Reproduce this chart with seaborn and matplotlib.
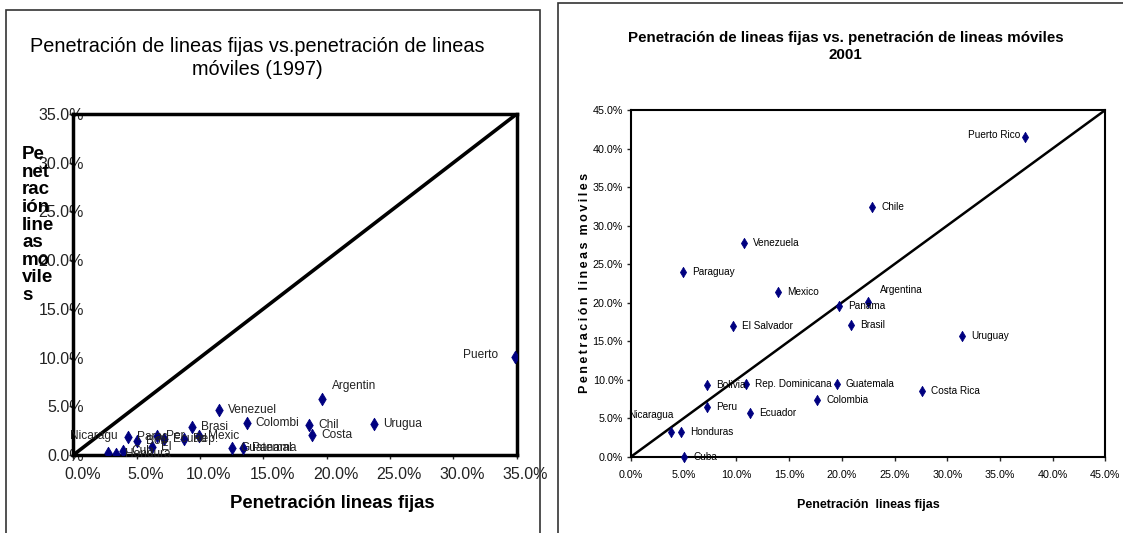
import matplotlib
matplotlib.use("Agg")
import matplotlib.pyplot as plt
from matplotlib import font_manager
from matplotlib.patches import Rectangle
from matplotlib.ticker import MultipleLocator, PercentFormatter
from matplotlib.transforms import ScaledTranslation
import pandas as pd
import seaborn as sns

# 1997 - etiquetas recortadas tal como aparecen en el grafico original
paises_97 = ["Nicaragu", "Hondura", "Cub", "Parag", "Boli", "El", "Per", "Ecuad",
             "Rep.", "Brasi", "Mexic", "Venezuel", "Guatemal", "Panama", "Colombi",
             "Chil", "Costa", "Argentin", "Urugua", "Puerto"]
fijas_97 = [2.71, 3.37, 3.9, 4.34, 5.0, 6.19, 6.58, 7.16,
            8.76, 9.39, 9.95, 11.52, 12.5, 13.42, 13.69,
            18.6, 18.86, 19.6, 23.73, 34.86]
moviles_97 = [0.24, 0.1, 0.41, 1.81, 1.47, 0.85, 1.95, 1.61,
              1.64, 2.91, 1.95, 4.62, 0.75, 0.75, 3.25,
              3.08, 2.05, 5.72, 3.18, 10.1]

# 2001
paises_01 = ["Nicaragua", "Honduras", "Cuba", "Peru", "Bolivia", "Rep. Dominicana",
             "Ecuador", "El Salvador", "Paraguay", "Venezuela", "Mexico", "Colombia",
             "Guatemala", "Panama", "Argentina", "Brasil", "Chile", "Uruguay",
             "Costa Rica", "Puerto Rico"]
fijas_01 = [3.8, 4.72, 5.06, 7.24, 7.24, 10.88,
            11.29, 9.65, 4.97, 10.75, 13.98, 17.68,
            19.51, 19.77, 22.5, 20.87, 22.87, 31.43,
            27.64, 37.41]
moviles_01 = [3.24, 3.16, 0.0, 6.41, 9.26, 9.43,
              5.63, 16.96, 23.97, 27.78, 21.33, 7.36,
              9.43, 19.6, 20.1, 17.1, 32.45, 15.7,
              8.53, 41.45]

# etiquetas que no van a la derecha del punto
pos_97 = {"Puerto": "left", "Argentin": "above", "Nicaragu": "aboveleft"}
pos_01 = {"Puerto Rico": "left", "Argentina": "above", "Nicaragua": "aboveleft"}

NAVY = "#000080"
W, H = 1123, 533

sns.set_theme(style="white")
plt.rcParams["font.family"] = ["Liberation Sans", "DejaVu Sans"]

names = {f.name for f in font_manager.fontManager.ttflist}
has_narrow = "Liberation Sans Narrow" in names
narrow = ["Liberation Sans Narrow", "Liberation Sans", "DejaVu Sans"] if has_narrow else ["Liberation Sans", "DejaVu Sans"]
k = 1.0 if has_narrow else 0.82  # reduce tamaño si no hay fuente estrecha

fig = plt.figure(figsize=(W / 100, H / 100), dpi=100)


def px(v):
    return v * 72 / 100


def label_points(ax, paises, xs, ys, special, offs, **kw):
    for name, x, y in zip(paises, xs, ys):
        where = special.get(name, "right")
        dx, dy, ha = offs[where]
        ax.annotate(name, (x, y), xytext=(px(dx), px(dy)), textcoords="offset points",
                    ha=ha, va="center", annotation_clip=False, **kw)


# ---------- panel 1997 ----------
fig.add_artist(Rectangle((6 / W, -0.05), 534 / W, 1.05 - 10 / H, transform=fig.transFigure,
                         fill=False, ec="#333333", lw=1.2))
ax1 = fig.add_axes([73.3 / W, (H - 455) / H, 443.4 / W, 341 / H])
df97 = pd.DataFrame({"fijas": fijas_97, "moviles": moviles_97, "pais": paises_97})
sns.scatterplot(data=df97, x="fijas", y="moviles", marker="d", s=40, color=NAVY,
                edgecolor=NAVY, linewidth=0.6, ax=ax1, zorder=3)
ax1.axline((0, 0), slope=1, color="black", lw=2.6, zorder=2)
ax1.set_xlim(0, 35)
ax1.set_ylim(0, 35)
ax1.set_xticks(range(0, 36, 5))
ax1.set_yticks(range(0, 36, 5))
ax1.xaxis.set_major_formatter(PercentFormatter(100, decimals=1))
ax1.yaxis.set_major_formatter(PercentFormatter(100, decimals=1))
for sp in ax1.spines.values():
    sp.set_color("black")
    sp.set_linewidth(2.5)
ax1.tick_params(axis="x", bottom=True, length=3, width=1, pad=5.3, labelsize=11.5,
                labelcolor="#222222")
ax1.tick_params(axis="y", left=True, length=3, width=1, pad=-10.6, labelsize=11.5,
                labelcolor="#222222")
for lab in ax1.get_xticklabels():
    lab.set_transform(lab.get_transform() + ScaledTranslation(9 / 100, 0, fig.dpi_scale_trans))
ax1.set_xlabel("Penetración lineas fijas", fontsize=13.3, fontweight="bold", color="black",
               ha="center", va="center")
ax1.xaxis.set_label_coords((332 - 73.3) / 443.4, (455 - 503) / 341)
ax1.set_ylabel("Pe\nnet\nrac\nión\nline\nas\nmo\nvile\ns", rotation=0, fontsize=13.5,
               fontweight="bold", color="black", ha="left", va="center", linespacing=1.04)
ax1.yaxis.set_label_coords((22 - 73.3) / 443.4, (455 - 225) / 341)
label_points(ax1, paises_97, fijas_97, moviles_97, pos_97,
             {"right": (9, 0, "left"), "left": (-17, 2, "right"),
              "above": (10, 13, "left"), "aboveleft": (9.6, 17, "right")},
             fontsize=8.6, color="#222222")
fig.text(257 / W, 1 - 58.3 / H, "Penetración de lineas fijas vs.penetración de lineas\nmóviles (1997)",
         ha="center", va="center", fontsize=14.3, linespacing=1.25, color="black")

# ---------- panel 2001 ----------
fig.add_artist(Rectangle((558 / W, -0.05), 0.6, 1.05 - 3 / H, transform=fig.transFigure,
                         fill=False, ec="#333333", lw=1.2))
ax2 = fig.add_axes([631 / W, (H - 456.7) / H, 474.3 / W, 346.7 / H])
df01 = pd.DataFrame({"fijas": fijas_01, "moviles": moviles_01, "pais": paises_01})
sns.scatterplot(data=df01, x="fijas", y="moviles", marker="d", s=28, color=NAVY,
                edgecolor=NAVY, linewidth=0.5, ax=ax2, zorder=3, clip_on=False)
ax2.axline((0, 0), slope=1, color="black", lw=1.8, zorder=2)
ax2.set_xlim(0, 45)
ax2.set_ylim(0, 45)
ax2.xaxis.set_major_locator(MultipleLocator(5))
ax2.yaxis.set_major_locator(MultipleLocator(5))
ax2.xaxis.set_major_formatter(PercentFormatter(100, decimals=1))
ax2.yaxis.set_major_formatter(PercentFormatter(100, decimals=1))
for sp in ax2.spines.values():
    sp.set_color("black")
    sp.set_linewidth(1.5)
ax2.tick_params(axis="both", bottom=True, left=True, length=3, width=1, labelcolor="black")
ax2.tick_params(axis="x", pad=6.3)
ax2.tick_params(axis="y", pad=2.7)
for lab in ax2.get_xticklabels() + ax2.get_yticklabels():
    lab.set_family(narrow)
    lab.set_fontsize(9.5 * k)
ax2.set_xlabel("Penetración  lineas fijas", fontsize=11 * k, fontweight="bold", family=narrow,
               ha="center", va="center", color="black")
ax2.xaxis.set_label_coords(0.5, (456.7 - 505) / 346.7)
spaced = "  ".join("\u2009".join(w) for w in "Penetración lineas moviles".split())
ax2.set_ylabel(spaced, fontsize=9, fontweight="bold", ha="center", va="center", color="black")
ax2.yaxis.set_label_coords((585 - 631) / 474.3, 0.5)
label_points(ax2, paises_01, fijas_01, moviles_01, pos_01,
             {"right": (9, 0, "left"), "left": (-5, 2, "right"),
              "above": (12, 12, "left"), "aboveleft": (2, 17, "right")},
             fontsize=8.8 * k, family=narrow, color="black")
fig.text(845.5 / W, 1 - 46.5 / H,
         "Penetración de lineas fijas vs. penetración de lineas móviles\n2001",
         ha="center", va="center", fontsize=13.3 * k, fontweight="bold", family=narrow,
         linespacing=1.3, color="black")

fig.savefig("out.png", dpi=100)
